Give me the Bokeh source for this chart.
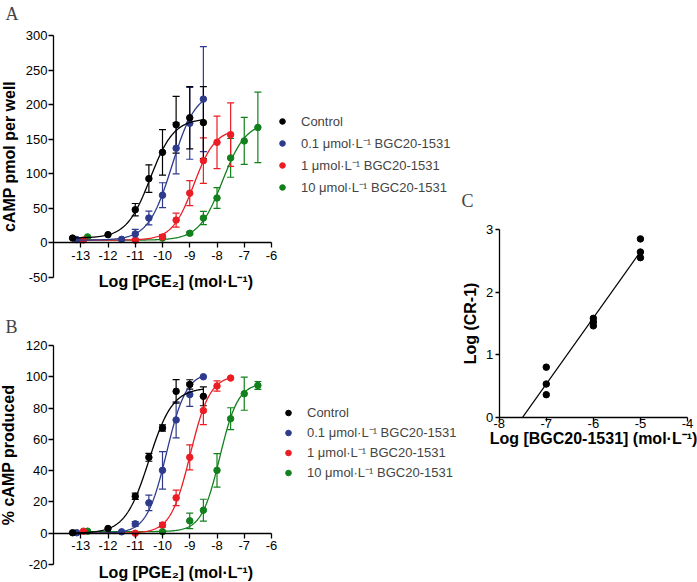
import numpy as np
from bokeh.plotting import figure
from bokeh.models import (ColumnDataSource, Whisker, TeeHead, Range1d, FixedTicker,
                          Legend, LegendItem, Label, LinearAxis)
from bokeh.layouts import row, column
from bokeh.embed import file_html
from bokeh.resources import INLINE

series_labels = ["Control", "0.1 μmol·L⁻¹ BGC20-1531", "1 μmol·L⁻¹ BGC20-1531", "10 μmol·L⁻¹ BGC20-1531"]
series_colors = ["#000000", "#2e3a8c", "#ec1c24", "#12801c"]
pge2_ticks = [-13, -12, -11, -10, -9, -8, -7, -6]

# ---- Panel A : cAMP pmol per well (mean, SEM) ----
a_ctrl_x = [-13.3, -12, -11, -10.5, -10, -9.5, -9, -8.5]
a_ctrl_y = [7, 12, 48, 93, 131, 171, 181, 174]
a_ctrl_sem = [0, 0, 9, 20, 33, 41, 45, 52]
a_b01_x = [-13.15, -11.5, -11, -10.5, -10, -9.5, -9, -8.5]
a_b01_y = [4.8, 5.2, 13, 36, 69, 137, 173, 208]
a_b01_sem = [0, 0, 6.5, 10, 18, 37, 52, 76]
a_b1_x = [-12.9, -11, -10, -9.5, -9, -8.5, -8, -7.5]
a_b1_y = [4.3, 3.8, 8.7, 33, 72, 119, 145.5, 156.6]
a_b1_sem = [0, 0, 3.5, 10, 18, 33, 38, 46]
a_b10_x = [-12.75, -10, -9, -8.5, -8, -7.5, -7, -6.5]
a_b10_y = [8.7, 7, 14, 36, 65, 123, 147.5, 167]
a_b10_sem = [0, 0, 2, 9.5, 15, 28, 34, 51]
# fitted curves: bottom, top, logEC50, Hill slope
a_fit_ctrl = (7, 180, -10.45, 1.0)
a_fit_b01 = (4, 220, -9.65, 1.0)
a_fit_b1 = (4, 165, -8.85, 1.1)
a_fit_b10 = (4, 175, -7.8, 1.0)
a_y_ticks = [-50, 0, 50, 100, 150, 200, 250, 300]

# ---- Panel B : % cAMP produced (mean, SEM) ----
b_ctrl_x = [-13.3, -12, -11, -10.5, -10, -9.5, -9, -8.5]
b_ctrl_y = [0.3, 3, 23.6, 48.5, 67.3, 90.7, 95.1, 87.5]
b_ctrl_sem = [0, 0, 2, 2.5, 2, 7.5, 3, 6]
b_b01_x = [-13.15, -11.5, -11, -10.5, -10, -9.5, -9, -8.5]
b_b01_y = [0.3, 0.9, 6, 19.4, 40.2, 72.4, 88.6, 100]
b_b01_sem = [0, 0, 1.5, 5, 12, 11.5, 7.5, 0]
b_b1_x = [-12.9, -11, -10, -9.5, -9, -8.5, -8, -7.5]
b_b1_y = [1.3, 0, 5.3, 22.6, 48.5, 78.4, 94.1, 99.2]
b_b1_sem = [0, 0, 1.5, 5, 8, 9, 3.3, 0]
b_b10_x = [-12.75, -10, -9, -8.5, -8, -7.5, -7, -6.5]
b_b10_y = [1.3, 1, 7.9, 14.7, 40.2, 73.2, 89.2, 94.5]
b_b10_sem = [0, 0, 5, 7, 10.7, 7, 10.6, 2.5]
b_fit_ctrl = (0, 93, -10.5, 1.0)
b_fit_b01 = (0, 103, -9.85, 1.2)
b_fit_b1 = (0, 101, -8.98, 1.2)
b_fit_b10 = (1, 96, -7.9, 1.3)
b_y_ticks = [-20, 0, 20, 40, 60, 80, 100, 120]

# ---- Panel C : Schild plot ----
c_log_bgc = [-7, -7, -7, -6, -6, -6, -5, -5, -5]
c_log_cr1 = [0.80, 0.53, 0.36, 1.58, 1.52, 1.46, 2.85, 2.64, 2.55]
c_x_ticks = [-8, -7, -6, -5, -4]
c_y_ticks = [0, 1, 2, 3]

FONT = "Liberation Sans"


class PixMap:
    """linear map between canvas pixels and data values (two reference points)"""
    def __init__(self, p0, v0, p1, v1):
        self.k = (v1 - v0) / (p1 - p0)
        self.p0, self.v0 = p0, v0

    def __call__(self, px):
        return self.v0 + (px - self.p0) * self.k


def style_axis(ax, tick_out=5):
    ax.axis_line_color = "black"
    ax.axis_line_width = 1.3
    ax.major_tick_line_color = "black"
    ax.major_tick_line_width = 1.3
    ax.major_tick_in = 0
    ax.major_tick_out = tick_out
    ax.minor_tick_line_color = None
    ax.major_label_text_font = FONT
    ax.major_label_text_font_size = "13px"
    ax.major_label_text_color = "black"
    ax.axis_label_text_font = FONT
    ax.axis_label_text_font_size = "16px"
    ax.axis_label_text_font_style = "bold"
    ax.axis_label_text_color = "black"


def set_ticks(ax, ticks):
    ax.ticker = FixedTicker(ticks=ticks)
    ax.major_label_overrides = {t: str(t) for t in ticks}


def base_figure(w, h, mx, my):
    p = figure(width=w, height=h, x_range=Range1d(mx(0), mx(w)), y_range=Range1d(my(h), my(0)),
               min_border=0, output_backend="svg", toolbar_location=None)
    p.xgrid.visible = False
    p.ygrid.visible = False
    p.outline_line_color = None
    return p


def logistic(x, fit):
    b, t, ec, h = fit
    return b + (t - b) / (1 + 10 ** ((ec - x) * h))


def dose_panel(xs, ys, sems, fits, y_lo, y_hi, y_ticks, y_title, letter, height,
               py_hi, py_lo, letter_top, legend_left, legend_bottom, item_h, y_title_standoff):
    mx = PixMap(53, -14, 271, -6)
    my = PixMap(py_hi, y_hi, py_lo, y_lo)
    p = base_figure(460, height, mx, my)
    p.xaxis.fixed_location = 0
    p.xaxis.bounds = (-14, -6)
    p.yaxis.fixed_location = -14
    p.yaxis.bounds = (y_lo, y_hi)
    style_axis(p.xaxis[0])
    style_axis(p.yaxis[0])
    set_ticks(p.xaxis[0], pge2_ticks)
    set_ticks(p.yaxis[0], y_ticks)
    p.xaxis.major_label_standoff = 3
    p.yaxis.major_label_standoff = 1
    p.yaxis.axis_label = y_title
    p.yaxis.axis_label_standoff = y_title_standoff

    # x-axis title, centred under the tick span as in the original
    tax = LinearAxis(fixed_location=0, bounds=(-13, -6), ticker=FixedTicker(ticks=[]),
                     axis_label="Log [PGE₂] (mol·L⁻¹)")
    style_axis(tax, tick_out=0)
    tax.axis_line_color = None
    tax.major_label_standoff = 0
    tax.axis_label_standoff = 30
    p.add_layout(tax, "below")

    items = [None] * 4
    for i in reversed(range(4)):
        c = series_colors[i]
        x = np.array(xs[i], dtype=float)
        y = np.array(ys[i], dtype=float)
        s = np.array(sems[i], dtype=float)
        xf = np.linspace(x.min(), x.max(), 200)
        p.line(xf, logistic(xf, fits[i]), line_color=c, line_width=1.3)
        m = s > 0
        src = ColumnDataSource(dict(x=x[m], upper=(y + s)[m], lower=(y - s)[m]))
        p.add_layout(Whisker(source=src, base="x", upper="upper", lower="lower",
                             line_color=c, line_width=1.2,
                             upper_head=TeeHead(size=7, line_color=c, line_width=1.2),
                             lower_head=TeeHead(size=7, line_color=c, line_width=1.2)))
        r = p.scatter(x, y, size=6.5, color=c)
        items[i] = LegendItem(label=series_labels[i], renderers=[r])

    legend = Legend(items=items, location=(legend_left, legend_bottom), border_line_color=None,
                    background_fill_alpha=0, padding=0, margin=0, spacing=2,
                    glyph_width=14, glyph_height=item_h, label_height=item_h,
                    label_standoff=12, label_text_font=FONT, label_text_font_size="13px")
    p.add_layout(legend)
    p.add_layout(Label(x=mx(5), y=my(letter_top), text=letter, text_font="Liberation Serif",
                       text_font_size="18px", text_baseline="top", text_align="left"))
    return p


pA = dose_panel([a_ctrl_x, a_b01_x, a_b1_x, a_b10_x],
                [a_ctrl_y, a_b01_y, a_b1_y, a_b10_y],
                [a_ctrl_sem, a_b01_sem, a_b1_sem, a_b10_sem],
                [a_fit_ctrl, a_fit_b01, a_fit_b1, a_fit_b10],
                -50, 300, a_y_ticks, "cAMP pmol per well", "A", 297,
                35, 277, 3, 275, 100, 20, 5)

pB = dose_panel([b_ctrl_x, b_b01_x, b_b1_x, b_b10_x],
                [b_ctrl_y, b_b01_y, b_b1_y, b_b10_y],
                [b_ctrl_sem, b_b01_sem, b_b1_sem, b_b10_sem],
                [b_fit_ctrl, b_fit_b01, b_fit_b1, b_fit_b10],
                -20, 120, b_y_ticks, "% cAMP produced", "B", 285,
                48, 267, 19, 281, 101, 17, 6)

# ---- Panel C ----
cmx = PixMap(38.7, -8, 227, -4)
cmy = PixMap(229, 3, 416.7, 0)
pC = base_figure(237, 460, cmx, cmy)
pC.xaxis.fixed_location = 0
pC.xaxis.bounds = (-8, -4)
pC.yaxis.fixed_location = -8
pC.yaxis.bounds = (0, 3)
style_axis(pC.xaxis[0], tick_out=4)
style_axis(pC.yaxis[0], tick_out=4)
set_ticks(pC.xaxis[0], c_x_ticks)
set_ticks(pC.yaxis[0], c_y_ticks)
pC.xaxis.axis_label = "Log [BGC20-1531] (mol·L⁻¹)"
pC.yaxis.axis_label = "Log (CR-1)"
pC.xaxis.major_label_standoff = -2
pC.xaxis.axis_label_standoff = -2
pC.yaxis.major_label_standoff = 2
pC.yaxis.axis_label_standoff = 4
slope, intercept = np.polyfit(c_log_bgc, c_log_cr1, 1)
xl = np.array([-intercept / slope, max(c_log_bgc)])
pC.line(xl, slope * xl + intercept, line_color="black", line_width=1.2)
pC.scatter(c_log_bgc, c_log_cr1, size=6.5, color="black")
pC.add_layout(Label(x=cmx(1), y=cmy(190), text="C", text_font="Liberation Serif",
                    text_font_size="18px", text_baseline="top", text_align="left"))

layout = row(column(pA, pB), pC)
open("out.html", "w").write(file_html(layout, INLINE))
